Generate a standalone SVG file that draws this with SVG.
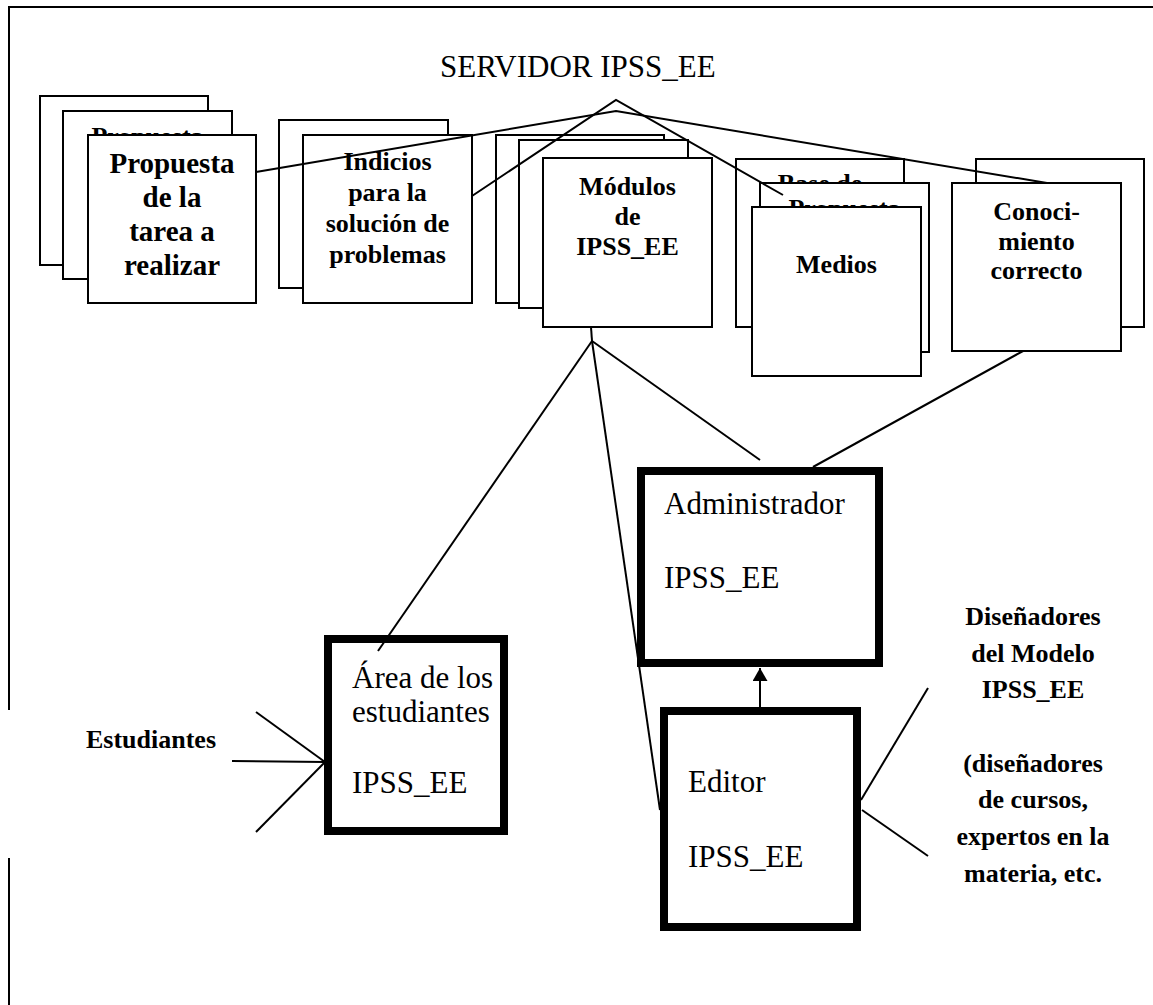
<svg xmlns="http://www.w3.org/2000/svg" width="1153" height="1005" viewBox="0 0 1153 1005">
<style>
text{font-family:"Liberation Serif","Times New Roman",serif;fill:#000}
.b{font-weight:bold;font-size:26px;text-anchor:middle}
.b29{font-weight:bold;font-size:29px;text-anchor:middle}
.r{font-size:31px}
.card{fill:#fff;stroke:#000;stroke-width:2}
.thick{fill:#fff;stroke:#000;stroke-width:8}
.ln{fill:none;stroke:#000;stroke-width:2}
</style>
<defs>
<marker id="arr" markerUnits="userSpaceOnUse" markerWidth="13" markerHeight="15" refX="13" refY="7.5" orient="auto" viewBox="0 0 13 15">
<path d="M0,0 L13,7.5 L0,15 Z" fill="#000"/>
</marker>
<clipPath id="cp1"><rect x="63" y="100" width="170" height="35"/></clipPath>
<clipPath id="cp2"><rect x="736" y="150" width="170" height="33"/></clipPath>
<clipPath id="cp3"><rect x="760" y="175" width="170" height="32"/></clipPath>
</defs>
<rect width="1153" height="1005" fill="#fff"/>
<g id="frame">
<path class="ln" d="M9,710 V7 H1153"/>
<path class="ln" d="M9,858 V1005"/>
</g>
<text id="title" class="r" x="440" y="77">SERVIDOR IPSS_EE</text>
<g id="propuesta">
<rect class="card" x="40" y="96" width="168" height="169"/>
<rect class="card" x="63" y="111" width="169" height="168"/>
<text class="b" x="147.5" y="145" clip-path="url(#cp1)">Propuesta</text>
<rect class="card" x="88" y="135" width="168" height="168"/>
<text class="b29"><tspan x="172" y="173">Propuesta</tspan><tspan x="172" y="207">de la</tspan><tspan x="172" y="241">tarea a</tspan><tspan x="172" y="275">realizar</tspan></text>
</g>
<g id="indicios">
<rect class="card" x="279" y="120" width="169" height="168"/>
<rect class="card" x="303" y="135" width="169" height="168"/>
<text class="b"><tspan x="387.5" y="170">Indicios</tspan><tspan x="387.5" y="201">para la</tspan><tspan x="387.5" y="232">solución de</tspan><tspan x="387.5" y="263">problemas</tspan></text>
</g>
<g id="modulos">
<rect class="card" x="496" y="135" width="168" height="168"/>
<rect class="card" x="519" y="140" width="169" height="168"/>
<rect class="card" x="543" y="158" width="169" height="169"/>
<text class="b"><tspan x="627.5" y="195">Módulos</tspan><tspan x="627.5" y="225">de</tspan><tspan x="627.5" y="255">IPSS_EE</tspan></text>
</g>
<g id="medios">
<rect class="card" x="736" y="159" width="168" height="168"/>
<text class="b" x="820" y="192" clip-path="url(#cp2)">Base de</text>
<rect class="card" x="760" y="183" width="169" height="169"/>
<text class="b" x="844.5" y="217" clip-path="url(#cp3)">Propuesta</text>
<rect class="card" x="752" y="207" width="169" height="169"/>
<text class="b" x="836.5" y="273">Medios</text>
</g>
<g id="conocimiento">
<rect class="card" x="976" y="159" width="168" height="168"/>
<rect class="card" x="952" y="183" width="169" height="168"/>
<text class="b"><tspan x="1036.5" y="220">Conoci-</tspan><tspan x="1036.5" y="250">miento</tspan><tspan x="1036.5" y="279">correcto</tspan></text>
</g>
<g id="administrador">
<rect class="thick" x="641" y="471" width="238" height="192"/>
<text class="r"><tspan x="664" y="514">Administrador</tspan><tspan x="664" y="588">IPSS_EE</tspan></text>
</g>
<g id="area">
<rect class="thick" x="328" y="639" width="176" height="192"/>
<text class="r"><tspan x="352" y="688">Área de los</tspan><tspan x="352" y="722">estudiantes</tspan><tspan x="352" y="793">IPSS_EE</tspan></text>
</g>
<g id="editor">
<rect class="thick" x="664" y="711" width="193" height="216"/>
<text class="r"><tspan x="688" y="792">Editor</tspan><tspan x="688" y="867">IPSS_EE</tspan></text>
</g>
<g id="estudiantes">
<text class="b" x="151" y="748">Estudiantes</text>
</g>
<g id="disenadores">
<text class="b"><tspan x="1033" y="625">Diseñadores</tspan><tspan x="1033" y="662">del Modelo</tspan><tspan x="1033" y="698">IPSS_EE</tspan><tspan x="1033" y="772">(diseñadores</tspan><tspan x="1033" y="808">de cursos,</tspan><tspan x="1033" y="845">expertos en la</tspan><tspan x="1033" y="882">materia, etc.</tspan></text>
</g>
<g id="connectors">
<path class="ln" d="M256,172 L616,111 L1047,183"/>
<path class="ln" d="M472,196 L616,100 L783,195"/>
<path class="ln" d="M591,327 L592,341"/>
<path class="ln" d="M592,341 L378,651"/>
<path class="ln" d="M592,341 L660,810"/>
<path class="ln" d="M592,341 L760,460"/>
<path class="ln" d="M1023,351 L813,467"/>
<path class="ln" d="M256,712 L325,762"/>
<path class="ln" d="M232,761 L325,762"/>
<path class="ln" d="M256,832 L325,762"/>
<path class="ln" d="M861,800 L928,688"/>
<path class="ln" d="M862,810 L928,856"/>
<path class="ln" d="M760,707 L760,668" marker-end="url(#arr)"/>
</g>
</svg>
